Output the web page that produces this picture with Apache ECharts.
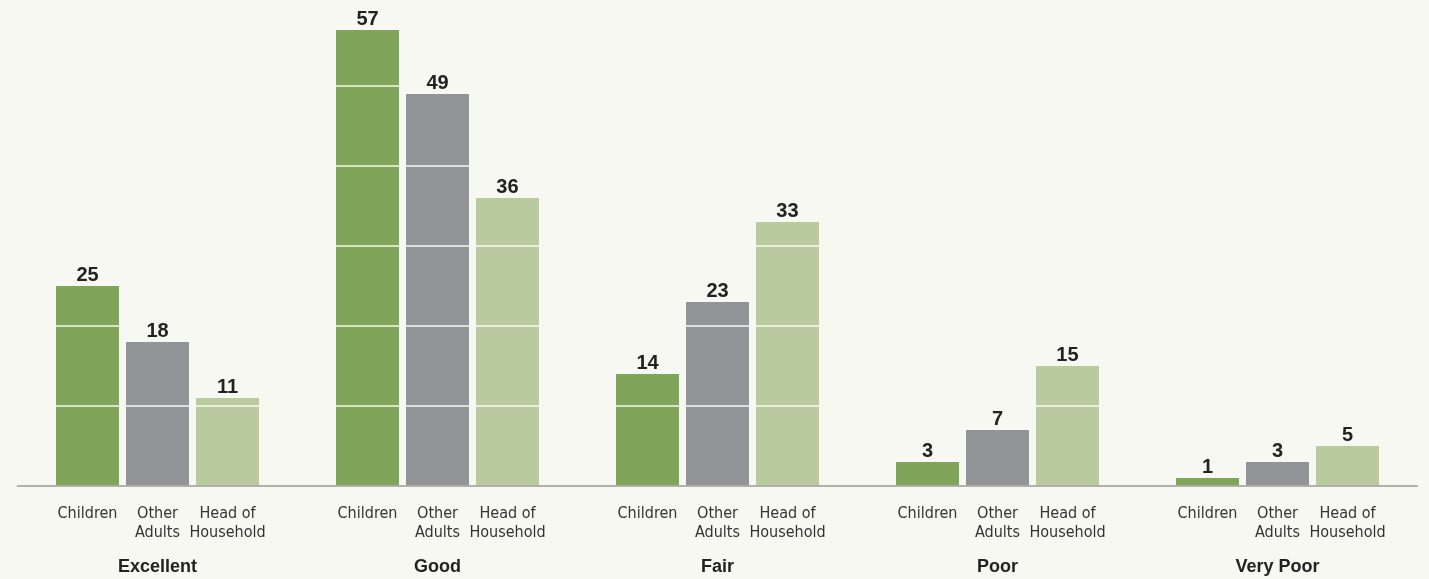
<!DOCTYPE html>
<html>
<head>
<meta charset="utf-8">
<script src="https://cdn.jsdelivr.net/npm/echarts@6/dist/echarts.min.js"></script>
<style>
html,body{margin:0;padding:0;background:#f6f8f1;}
#chart{width:1429px;height:579px;}
</style>
</head>
<body>
<div id="chart"></div>
<script>
const groups = ['Excellent', 'Good', 'Fair', 'Poor', 'Very Poor'];
const seriesNames = ['Children', 'Other Adults', 'Head of Household'];
const subLabelLine1 = ['Children', 'Other', 'Head of'];
const subLabelLine2 = [' ', 'Adults', 'Household'];
const children = [25, 57, 14, 3, 1];
const otherAdults = [18, 49, 23, 7, 3];
const headOfHousehold = [11, 36, 33, 15, 5];
const colors = ['#80a55a', '#939498', '#b9ca9f'];
const bg = '#f6f8f1';

const chart = echarts.init(document.getElementById('chart'));
const valueLabel = {
  show: true, position: 'top', distance: 1,
  fontFamily: 'Liberation Sans, Arial, sans-serif', fontWeight: 'bold', fontSize: 20, color: '#222'
};
function mkBar(name, data, color) {
  return {
    name: name, type: 'bar', data: data, barWidth: 63, barGap: '11.1%',
    itemStyle: { color: color }, label: { show: false }, z: 2, silent: true
  };
}
function mkLabel(name, data) {
  return {
    name: name, type: 'bar', data: data, barWidth: 63, barGap: '11.1%', xAxisIndex: 1,
    itemStyle: { color: 'rgba(0,0,0,0)' }, label: valueLabel, z: 10, silent: true
  };
}
const subStyle = { width: 70, align: 'center', fontFamily: 'DejaVu Sans Condensed, Liberation Sans Narrow, sans-serif', fontSize: 16, color: '#333', lineHeight: 19 };
chart.setOption({
  backgroundColor: bg,
  animation: false,
  grid: { left: 17.5, right: 11.5, top: 6, bottom: 93, outerBoundsMode: 'none', containLabel: false },
  xAxis: [{
    type: 'category', data: groups, z: 5,
    axisLine: { lineStyle: { color: '#9a9a9a', width: 1.5 } },
    axisTick: { show: false },
    axisLabel: {
      margin: 18, interval: 0,
      formatter: function (v) {
        return '{a|' + subLabelLine1[0] + '}{b|' + subLabelLine1[1] + '}{c|' + subLabelLine1[2] + '}\n' +
               '{a|' + subLabelLine2[0] + '}{b|' + subLabelLine2[1] + '}{c|' + subLabelLine2[2] + '}\n' +
               '{g|' + v + '}';
      },
      rich: {
        a: subStyle, b: subStyle, c: subStyle,
        g: { width: 210, align: 'center', fontFamily: 'Liberation Sans, Arial, sans-serif', fontWeight: 'bold', fontSize: 18, color: '#222', lineHeight: 50 }
      }
    }
  }, {
    type: 'category', data: groups, show: false
  }],
  yAxis: {
    type: 'value', min: 0, max: 60, interval: 10, z: 3,
    axisLine: { show: false }, axisTick: { show: false }, axisLabel: { show: false },
    splitLine: { show: true, lineStyle: { color: bg, width: 1.5 } }
  },
  series: [
    mkBar(seriesNames[0], children, colors[0]),
    mkBar(seriesNames[1], otherAdults, colors[1]),
    mkBar(seriesNames[2], headOfHousehold, colors[2]),
    mkLabel(seriesNames[0], children),
    mkLabel(seriesNames[1], otherAdults),
    mkLabel(seriesNames[2], headOfHousehold)
  ]
});
</script>
</body>
</html>
